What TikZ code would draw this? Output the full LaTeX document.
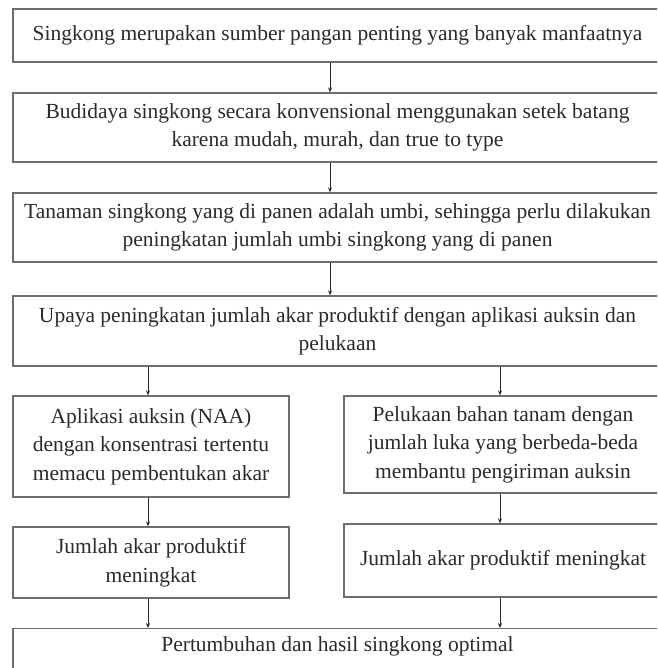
\documentclass[tikz,border=0pt]{standalone}
\usepackage{fontspec}
\setmainfont{Liberation Serif}
\usetikzlibrary{arrows.meta,calc}
\definecolor{boxline}{HTML}{6E6E6E}
\definecolor{txtcol}{HTML}{2A2A2A}
\tikzset{
  flowbox/.style={draw=boxline, line width=1.3pt, rectangle, align=center,
    text=txtcol, font=\fontsize{21.5}{28.5}\selectfont, inner sep=0pt},
  arr/.style={draw=black!85, line width=0.8pt, -{Stealth[length=5pt,width=4pt]}}
}
\begin{document}
\begin{tikzpicture}[x=1pt,y=-1pt]
\useasboundingbox (0,0) rectangle (657,668);
\clip (0,0) rectangle (657,668);
\node[flowbox, minimum width=649pt, minimum height=53pt] (b1) at (337.5,35.5)
  {Singkong merupakan sumber pangan penting yang banyak manfaatnya};
\node[flowbox, minimum width=649pt, minimum height=69pt] (b2) at (337.5,127.5)
  {Budidaya singkong secara konvensional menggunakan setek batang\\karena mudah, murah, dan true to type};
\node[flowbox, minimum width=649pt, minimum height=69pt] (b3) at (337.5,227.5)
  {Tanaman singkong yang di panen adalah umbi, sehingga perlu dilakukan\\peningkatan jumlah umbi singkong yang di panen};
\node[flowbox, minimum width=649pt, minimum height=70pt] (b4) at (337.5,331)
  {Upaya peningkatan jumlah akar produktif dengan aplikasi auksin dan\\pelukaan};
\node[flowbox, minimum width=276pt, minimum height=101pt] (la) at (151,446.5)
  {Aplikasi auksin (NAA)\\dengan konsentrasi tertentu\\memacu pembentukan akar};
\node[flowbox, minimum width=276pt, minimum height=71pt] (lb) at (151,562.5)
  {Jumlah akar produktif\\meningkat};
\node[flowbox, minimum width=318pt, minimum height=97pt] (ra) at (503,444.5)
  {Pelukaan bahan tanam dengan\\jumlah luka yang berbeda-beda\\membantu pengiriman auksin};
\node[flowbox, minimum width=318pt, minimum height=73pt] (rb) at (503,560.5)
  {Jumlah akar produktif meningkat};
\node[flowbox, anchor=north, minimum width=649pt, inner ysep=9pt, text height=14pt, text depth=40pt] (b5) at (337.5,628)
  {Pertumbuhan dan hasil singkong optimal};
\coordinate (cx) at (330,0);
\coordinate (lx) at (148,0);
\coordinate (rx) at (500,0);
\draw[arr] (b1.south -| cx) -- (b2.north -| cx);
\draw[arr] (b2.south -| cx) -- (b3.north -| cx);
\draw[arr] (b3.south -| cx) -- (b4.north -| cx);
\draw[arr] (b4.south -| lx) -- (la.north -| lx);
\draw[arr] (b4.south -| rx) -- (ra.north -| rx);
\draw[arr] (la.south -| lx) -- (lb.north -| lx);
\draw[arr] (ra.south -| rx) -- (rb.north -| rx);
\draw[arr] (lb.south -| lx) -- (b5.north -| lx);
\draw[arr] (rb.south -| rx) -- (b5.north -| rx);
\end{tikzpicture}
\end{document}
